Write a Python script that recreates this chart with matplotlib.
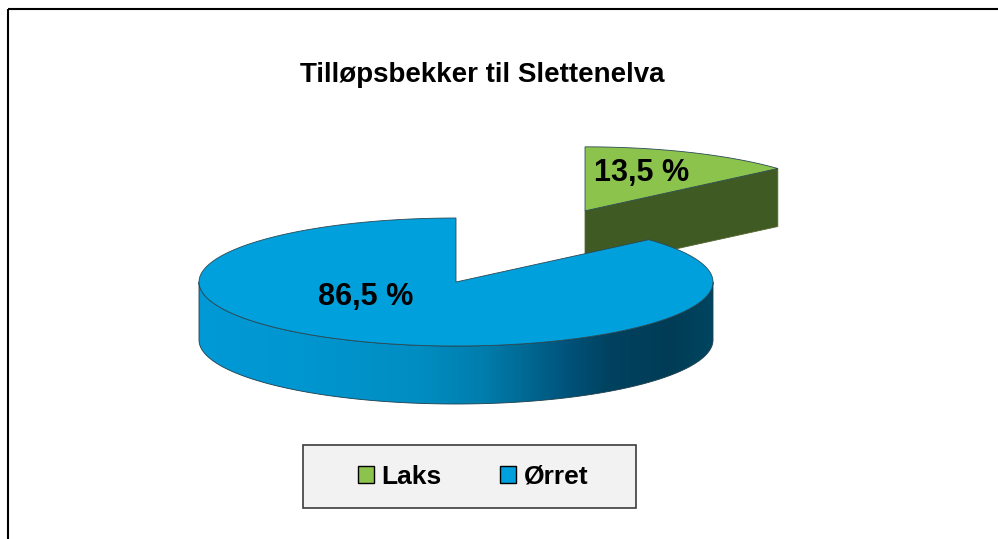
import numpy as np
import matplotlib.pyplot as plt
from matplotlib.patches import Polygon, Rectangle, Patch
from matplotlib.colors import LinearSegmentedColormap

plt.rcParams['font.family'] = ['Liberation Sans', 'DejaVu Sans']

# data
categories = ['Laks', 'Ørret']
shares = [13.5, 86.5]
labels = ['13,5 %', '86,5 %']
explode = [1.22, 0.0]

# styles
top_colors = ['#8cc34c', '#00a0dd']
wall_colors = [[(0.0, '#5a7f33'), (0.5, '#3f5a23'), (1.0, '#2b3d18')],
               [(0.0, '#0099d6'), (0.2, '#0096d0'), (0.42, '#008ec2'), (0.55, '#007eae'),
                (0.64, '#006892'), (0.72, '#00527a'), (0.8, '#00425f'), (0.92, '#003c56'),
                (1.0, '#004560')]]
cut_colors = ['#3f5a23', '#006f9a']
label_offsets = [(57, -38), (-90, 15)]   # pixels from slice centre

W, H = 998, 539
cx, cy = 456, 282      # pie centre in pixels
rx, ry = 257, 64       # ellipse radii
depth = 58


def pt(c, t, r=1.0):
    t = np.radians(t)
    return c[0] + r * rx * np.cos(t), c[1] - r * ry * np.sin(t)


def arc(c, t1, t2, n=240):
    t = np.radians(np.linspace(t1, t2, n))
    return np.column_stack([c[0] + rx * np.cos(t), c[1] - ry * np.sin(t)])


fig = plt.figure(figsize=(W / 100, H / 100), dpi=100)
ax = fig.add_axes([0, 0, 1, 1])

# start at 12 o'clock, go clockwise
starts = 90 - 3.6 * np.concatenate([[0], np.cumsum(shares)[:-1]])
ends = starts - 3.6 * np.array(shares)

z = 2
for i in range(len(shares)):
    t1, t2 = starts[i], ends[i]
    c = pt((cx, cy), (t1 + t2) / 2, explode[i])

    # radial cut faces that face the viewer
    for t, vis in [(t2, np.cos(np.radians(t2)) > 1e-6), (t1, np.cos(np.radians(t1)) < -1e-6)]:
        if vis:
            p = pt(c, t)
            face = [c, p, (p[0], p[1] + depth), (c[0], c[1] + depth)]
            ax.add_patch(Polygon(face, closed=True, fc=cut_colors[i], ec='#55662f', lw=0.6, zorder=z))
            z += 1

    # outer wall, front half only
    for k in (-1, 0, 1):
        lo, hi = max(t2, -180 + 360 * k), min(t1, 360 * k)
        if hi - lo < 1e-6:
            continue
        top = arc(c, lo, hi)
        bot = top[::-1] + [0, depth]
        wall = Polygon(np.vstack([top, bot]), closed=True, fc='none', ec='none', zorder=z)
        ax.add_patch(wall)
        cmap = LinearSegmentedColormap.from_list('wall%d' % i, wall_colors[i])
        grad = np.linspace(0, 1, 512).reshape(1, -1)
        im = ax.imshow(grad, cmap=cmap, aspect='auto', zorder=z,
                       extent=(c[0] - rx, c[0] + rx, c[1] + ry + depth, c[1] - ry))
        im.set_clip_path(wall)
        ax.add_patch(Polygon(np.vstack([top, bot]), closed=True, fill=False,
                             ec='#1d3f4d', lw=0.6, zorder=z + 1))
        z += 2

    # top face
    top_face = np.vstack([[c], arc(c, t1, t2)])
    ax.add_patch(Polygon(top_face, closed=True, fc=top_colors[i], ec='#2a4a55', lw=0.6, zorder=z))
    z += 1

    ax.text(c[0] + label_offsets[i][0], c[1] + label_offsets[i][1], labels[i],
            ha='center', va='center', fontsize=22, fontweight='bold', zorder=50)

ax.text(482, 75, 'Tilløpsbekker til Slettenelva', ha='center', va='center',
        fontsize=20, fontweight='bold')

# legend box
ax.add_patch(Rectangle((303, 445), 333, 63, fc='#f2f2f2', ec='#3c3c3c', lw=1.2, zorder=40))
handles = [Patch(fc=top_colors[i], ec='black', lw=1.0, label=categories[i]) for i in range(len(categories))]
leg = ax.legend(handles=handles, loc='center', bbox_to_anchor=(473 / W, 1 - 477 / H),
                bbox_transform=fig.transFigure, ncol=2, frameon=False,
                prop={'weight': 'bold', 'size': 19}, handlelength=0.6, handleheight=0.6,
                handletextpad=0.3, columnspacing=2.2)
leg.set_zorder(45)

# chart border
ax.add_patch(Rectangle((8, 9), W, H, fill=False, ec='black', lw=1.5, zorder=60))

ax.set_xlim(0, W)
ax.set_ylim(H, 0)
ax.axis('off')
fig.savefig('out.png', dpi=100)
